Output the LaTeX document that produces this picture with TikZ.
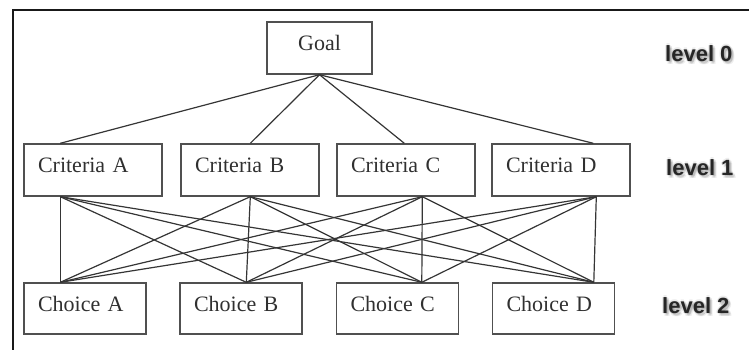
\documentclass[tikz,border=0pt]{standalone}
\usepackage{fontspec}
\setmainfont{Liberation Serif}
\newfontfamily\levelfont{Liberation Sans}
\begin{document}
\begin{tikzpicture}[x=1pt,y=-1pt,
  box/.style={draw=boxgray, line width=1.4pt, inner xsep=14pt, inner ysep=0pt,
    minimum height=52pt, text height=15pt, text depth=10pt,
    font=\fontsize{22}{24}\selectfont, text=labelgray},
  critbox/.style={box, minimum width=138pt, text width=110pt, align=left},
  choicebox/.style={box, minimum height=51pt, minimum width=122pt, text width=94pt, align=left},
  goalbox/.style={box, minimum width=105pt, align=center},
  link/.style={draw=linegray, line width=1.2pt},
  leveltxt/.style={anchor=base west, font=\levelfont\bfseries\fontsize{22}{24}\selectfont, text=black!85, inner sep=0pt},
  levelglow/.style={leveltxt, text=black, opacity=0.07}
]
\definecolor{boxgray}{HTML}{505050}
\definecolor{linegray}{HTML}{353535}
\definecolor{labelgray}{HTML}{303030}

\useasboundingbox (0,0) rectangle (749,350);
\clip (0,0) rectangle (749,350);

% outer frame
\draw[black!90, line width=2pt] (13,360) -- (13,10) -- (760,10);

% boxes
\node[goalbox] (goal) at (319.5,48) {Goal};

\node[critbox] (crA) at (93,170)  {Criteria A};
\node[critbox] (crB) at (250,170) {Criteria B};
\node[critbox] (crC) at (406,170) {Criteria C};
\node[critbox] (crD) at (561,170) {Criteria D};

\node[choicebox] (chA) at (85,308.5)    {Choice A};
\node[choicebox] (chB) at (241,308.5)   {Choice B};
\node[choicebox] (chC) at (397.5,308.5) {Choice C};
\node[choicebox] (chD) at (553.5,308.5) {Choice D};

% attachment points on the box edges
\coordinate (crAt) at ([xshift=37pt]crA.north west);
\coordinate (crBt) at ([xshift=70pt]crB.north west);
\coordinate (crCt) at ([xshift=68pt]crC.north west);
\coordinate (crDt) at ([xshift=102pt]crD.north west);

\coordinate (crAb) at ([xshift=37pt]crA.south west);
\coordinate (crBb) at ([xshift=70pt]crB.south west);
\coordinate (crCb) at ([xshift=86pt]crC.south west);
\coordinate (crDb) at ([xshift=105pt]crD.south west);

\coordinate (chAt) at ([xshift=37pt]chA.north west);
\coordinate (chBt) at ([xshift=67pt]chB.north west);
\coordinate (chCt) at ([xshift=86pt]chC.north west);
\coordinate (chDt) at ([xshift=102pt]chD.north west);

% goal to criteria
\foreach \c in {crAt,crBt,crCt,crDt}
  \draw[link] (goal.south) -- (\c);

% every criterion to every choice
\foreach \c in {crAb,crBb,crCb,crDb}
  \foreach \h in {chAt,chBt,chCt,chDt}
    \draw[link] (\c) -- (\h);

% level labels with a soft shadow
\foreach \t/\x/\y in {level 0/665/61.5, level 1/666/175, level 2/662/313}{
  \foreach \dx/\dy in {-1.5/0,1.5/0,0/-1.5,0/1.5,2/2.5,3/3.5,1/3,2.5/1}
    \node[levelglow] (glow) at (\x+\dx,\y+\dy) {\t};
  \node[leveltxt] (lvl) at (\x,\y) {\t};
}
\end{tikzpicture}
\end{document}
